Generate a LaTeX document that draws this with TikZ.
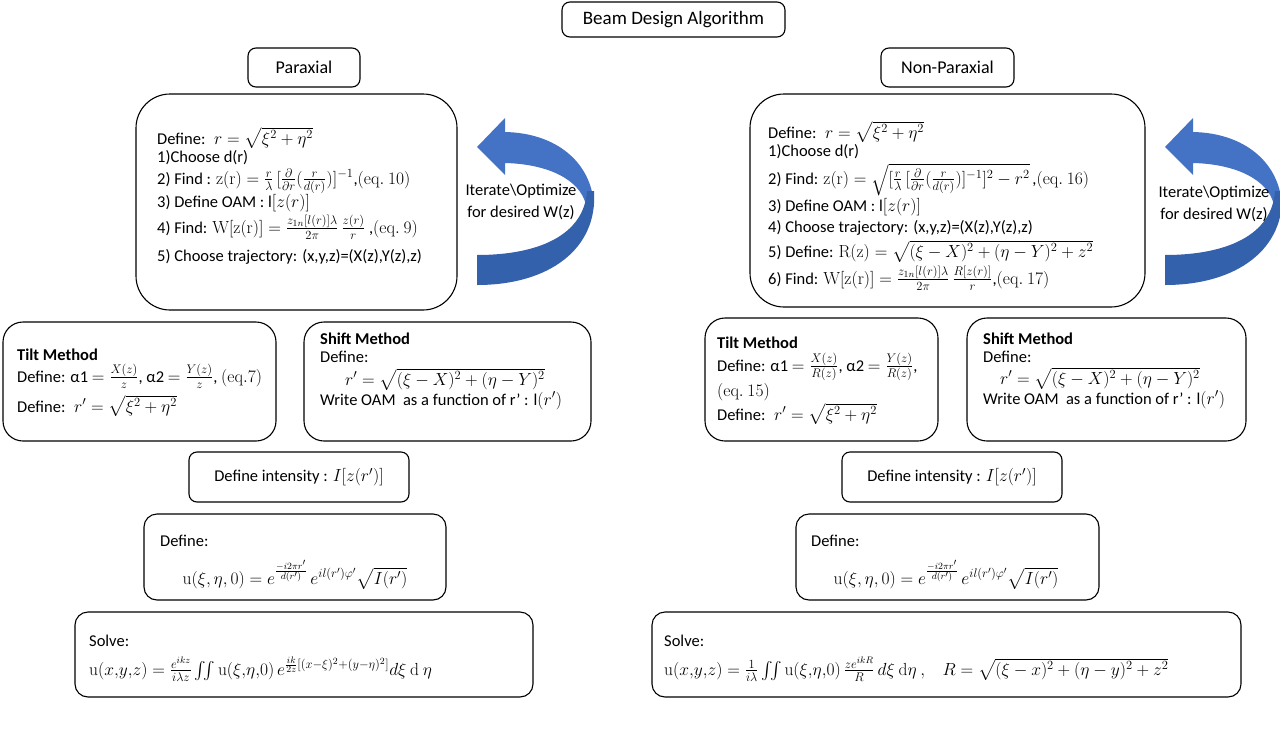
\RequirePackage{fix-cm}
\documentclass[tikz,border=0pt]{standalone}
\usepackage{amsmath}
\usepackage[no-math]{fontspec}
\setmainfont{Carlito}
\DeclareMathSizes{16.5}{17.5}{12.5}{9.5}
\newcommand\bodyfont{\fontsize{16.5}{20}\selectfont}
\newcommand\titlefont{\fontsize{19}{23}\selectfont}
\newcommand\headfont{\fontsize{18}{22}\selectfont}
\definecolor{arrlight}{HTML}{4472C4}
\definecolor{arrdark}{HTML}{3461AC}
\begin{document}
\begin{tikzpicture}[x=1pt,y=-1pt,
  box/.style={draw=black, line width=1.1pt, fill=white, inner sep=0pt},
  bigbox/.style={box, rounded corners=34pt},
  midbox/.style={box, rounded corners=20pt},
  smallbox/.style={box, rounded corners=13pt},
  tagbox/.style={box, rounded corners=8pt},
  txt/.style={anchor=base west, inner sep=0pt, font=\bodyfont},
  ctxt/.style={anchor=base, inner sep=0pt, font=\bodyfont},
  lbl/.style={inner sep=0pt, font=\bodyfont}]
\useasboundingbox (0,0) rectangle (1280,742);
\fill[white] (0,0) rectangle (1280,742);

% header boxes
\node[tagbox, minimum width=223pt, minimum height=35pt, font=\titlefont] (title) at (673.5,19.5) {Beam Design Algorithm};
\node[tagbox, minimum width=112pt, minimum height=39pt, font=\headfont] (para) at (304,67.5) {Paraxial};
\node[tagbox, minimum width=133pt, minimum height=39pt, font=\headfont] (npara) at (947.5,67.5) {Non-Paraxial};

% big boxes
\node[bigbox, minimum width=321pt, minimum height=216pt] (pbig) at (296.5,202) {};
\node[bigbox, minimum width=395pt, minimum height=213pt] (nbig) at (947.5,200.5) {};

% method boxes
\node[midbox, minimum width=273pt, minimum height=119pt] (ptilt) at (139.5,381.5) {};
\node[midbox, minimum width=287pt, minimum height=119pt] (pshift) at (447.5,381.5) {};
\node[midbox, minimum width=233pt, minimum height=123pt] (ntilt) at (821.5,379.5) {};
\node[midbox, minimum width=279pt, minimum height=123pt] (nshift) at (1106.5,379.5) {};

% intensity boxes
\node[tagbox, minimum width=220pt, minimum height=50pt, font=\bodyfont] (pint) at (299,477) {Define intensity : $I[z(r')]$};
\node[tagbox, minimum width=220pt, minimum height=50pt, font=\bodyfont] (nint) at (952,477) {Define intensity : $I[z(r')]$};

% define u boxes
\node[smallbox, minimum width=302pt, minimum height=86pt] (pdef) at (295,557) {};
\node[smallbox, minimum width=303pt, minimum height=86pt] (ndef) at (947.5,557) {};

% solve boxes
\node[smallbox, minimum width=458pt, minimum height=85pt] (psolve) at (304,654.5) {};
\node[smallbox, minimum width=589pt, minimum height=85pt] (nsolve) at (946.5,654.5) {};

% curved arrows
\foreach \ax in {477,1165}{
\begin{scope}[shift={(\ax,147)}]
\fill[arrlight] (0,0) -- (28,-29) -- (28,-15) .. controls (78,-14) and (114,14) .. (117,58)
  -- (109,58) .. controls (103,32) and (70,17) .. (28,16) -- (28,28) -- cycle;
\fill[arrdark] (117,44) .. controls (121,102) and (72,138) .. (0,138) -- (0,108)
  .. controls (62,108) and (107,88) .. (110,44) -- cycle;
\end{scope}}

\node[lbl] (pit1) at (521,191) {Iterate\textbackslash Optimize};
\node[lbl] (pit2) at (521,213) {for desired W(z)};
\node[lbl] (nit1) at (1214,193) {Iterate\textbackslash Optimize};
\node[lbl] (nit2) at (1214,215) {for desired W(z)};

% left big box text
\node[txt] (pa1) at (157,144) {Define:~ $r=\sqrt{\xi^2+\eta^2}$};
\node[txt] (pa2) at (157,162) {1)Choose d(r)};
\node[txt] (pa3) at (157,184) {2) Find : $\mathrm{z(r)}=\frac{r}{\lambda}\,[\frac{\partial}{\partial r}(\frac{r}{d(r)})]^{-1}$,$\mathrm{(eq.\ 10)}$};
\node[txt] (pa4) at (157,207) {3) Define OAM : l$[z(r)]$};
\node[txt] (pa5) at (157,233) {4) Find: $\mathrm{W[z(r)]}=\frac{z_{1n}[l(r)]\lambda}{2\pi}\,\frac{z(r)}{r}$ ,$\mathrm{(eq.\ 9)}$};
\node[txt] (pa6) at (157,261) {5) Choose trajectory: (x,y,z)=(X(z),Y(z),z)};

% right big box text
\node[txt] (na1) at (768,138) {Define:~ $r=\sqrt{\xi^2+\eta^2}$};
\node[txt] (na2) at (768,156) {1)Choose d(r)};
\node[txt] (na3) at (768,184) {2) Find: $\mathrm{z(r)}=\sqrt{[\frac{r}{\lambda}\,[\frac{\partial}{\partial r}(\frac{r}{d(r)})]^{-1}]^2-r^2}$\,,$\mathrm{(eq.\ 16)}$};
\node[txt] (na4) at (768,211) {3) Define OAM : l$[z(r)]$};
\node[txt] (na5) at (768,232) {4) Choose trajectory: (x,y,z)=(X(z),Y(z),z)};
\node[txt] (na6) at (768,257) {5) Define: $\mathrm{R(z)}=\sqrt{(\xi-X)^2+(\eta-Y)^2+z^2}$};
\node[txt] (na7) at (768,284) {6) Find: $\mathrm{W[z(r)]}=\frac{z_{1n}[l(r)]\lambda}{2\pi}\,\frac{R[z(r)]}{r}$,$\mathrm{(eq.\ 17)}$};

% left tilt
\node[txt] (pt1) at (17,360) {\textbf{Tilt Method}};
\node[txt] (pt2) at (17,382) {Define: α1 $=\frac{X(z)}{z}$, α2 $=\frac{Y(z)}{z}$, $\mathrm{(eq.7)}$};
\node[txt] (pt3) at (17,412) {Define:~ $r'=\sqrt{\xi^2+\eta^2}$};

% left shift
\node[txt] (ps1) at (320,344) {\textbf{Shift Method}};
\node[txt] (ps2) at (320,362) {Define:};
\node[ctxt] (ps3) at (445,385) {$r'=\sqrt{(\xi-X)^2+(\eta-Y)^2}$};
\node[txt] (ps4) at (320,405) {Write OAM~ as a function of r' : l$(r')$};

% right tilt
\node[txt] (nt1) at (717,348) {\textbf{Tilt Method}};
\node[txt] (nt2) at (717,371) {Define: α1 $=\frac{X(z)}{R(z)}$, α2 $=\frac{Y(z)}{R(z)}$,};
\node[txt] (nt3) at (717,396) {$\mathrm{(eq.\ 15)}$};
\node[txt] (nt4) at (717,420) {Define:~ $r'=\sqrt{\xi^2+\eta^2}$};

% right shift
\node[txt] (ns1) at (983,344) {\textbf{Shift Method}};
\node[txt] (ns2) at (983,362) {Define:};
\node[ctxt] (ns3) at (1100,384) {$r'=\sqrt{(\xi-X)^2+(\eta-Y)^2}$};
\node[txt] (ns4) at (983,404) {Write OAM~ as a function of r' : l$(r')$};

% define u
\node[txt] (pd1) at (160,546) {Define:};
\node[ctxt] (pd2) at (295,584) {$\mathrm{u}(\xi,\eta,0)=e^{\frac{-i2\pi r'}{d(r')}}\,e^{il(r')\varphi'}\sqrt{I(r')}$};
\node[txt] (nd1) at (811,546) {Define:};
\node[ctxt] (nd2) at (946,584) {$\mathrm{u}(\xi,\eta,0)=e^{\frac{-i2\pi r'}{d(r')}}\,e^{il(r')\varphi'}\sqrt{I(r')}$};

% solve
\node[txt] (pv1) at (89,646) {Solve:};
\node[txt] (pv2) at (89,675) {$\mathrm{u}(x{,}y{,}z)=\frac{e^{ikz}}{i\lambda z}\iint \mathrm{u}(\xi{,}\eta{,}0)\,e^{\frac{ik}{2z}[(x-\xi)^2+(y-\eta)^2]}d\xi\ \mathrm{d}\ \eta$};
\node[txt] (nv1) at (664,646) {Solve:};
\node[txt] (nv2) at (664,675) {$\mathrm{u}(x{,}y{,}z)=\frac{1}{i\lambda}\iint \mathrm{u}(\xi{,}\eta{,}0)\,\frac{ze^{ikR}}{R}\,d\xi\ \mathrm{d}\eta\ ,\;\;\; R=\sqrt{(\xi-x)^2+(\eta-y)^2+z^2}$};
\end{tikzpicture}
\end{document}
